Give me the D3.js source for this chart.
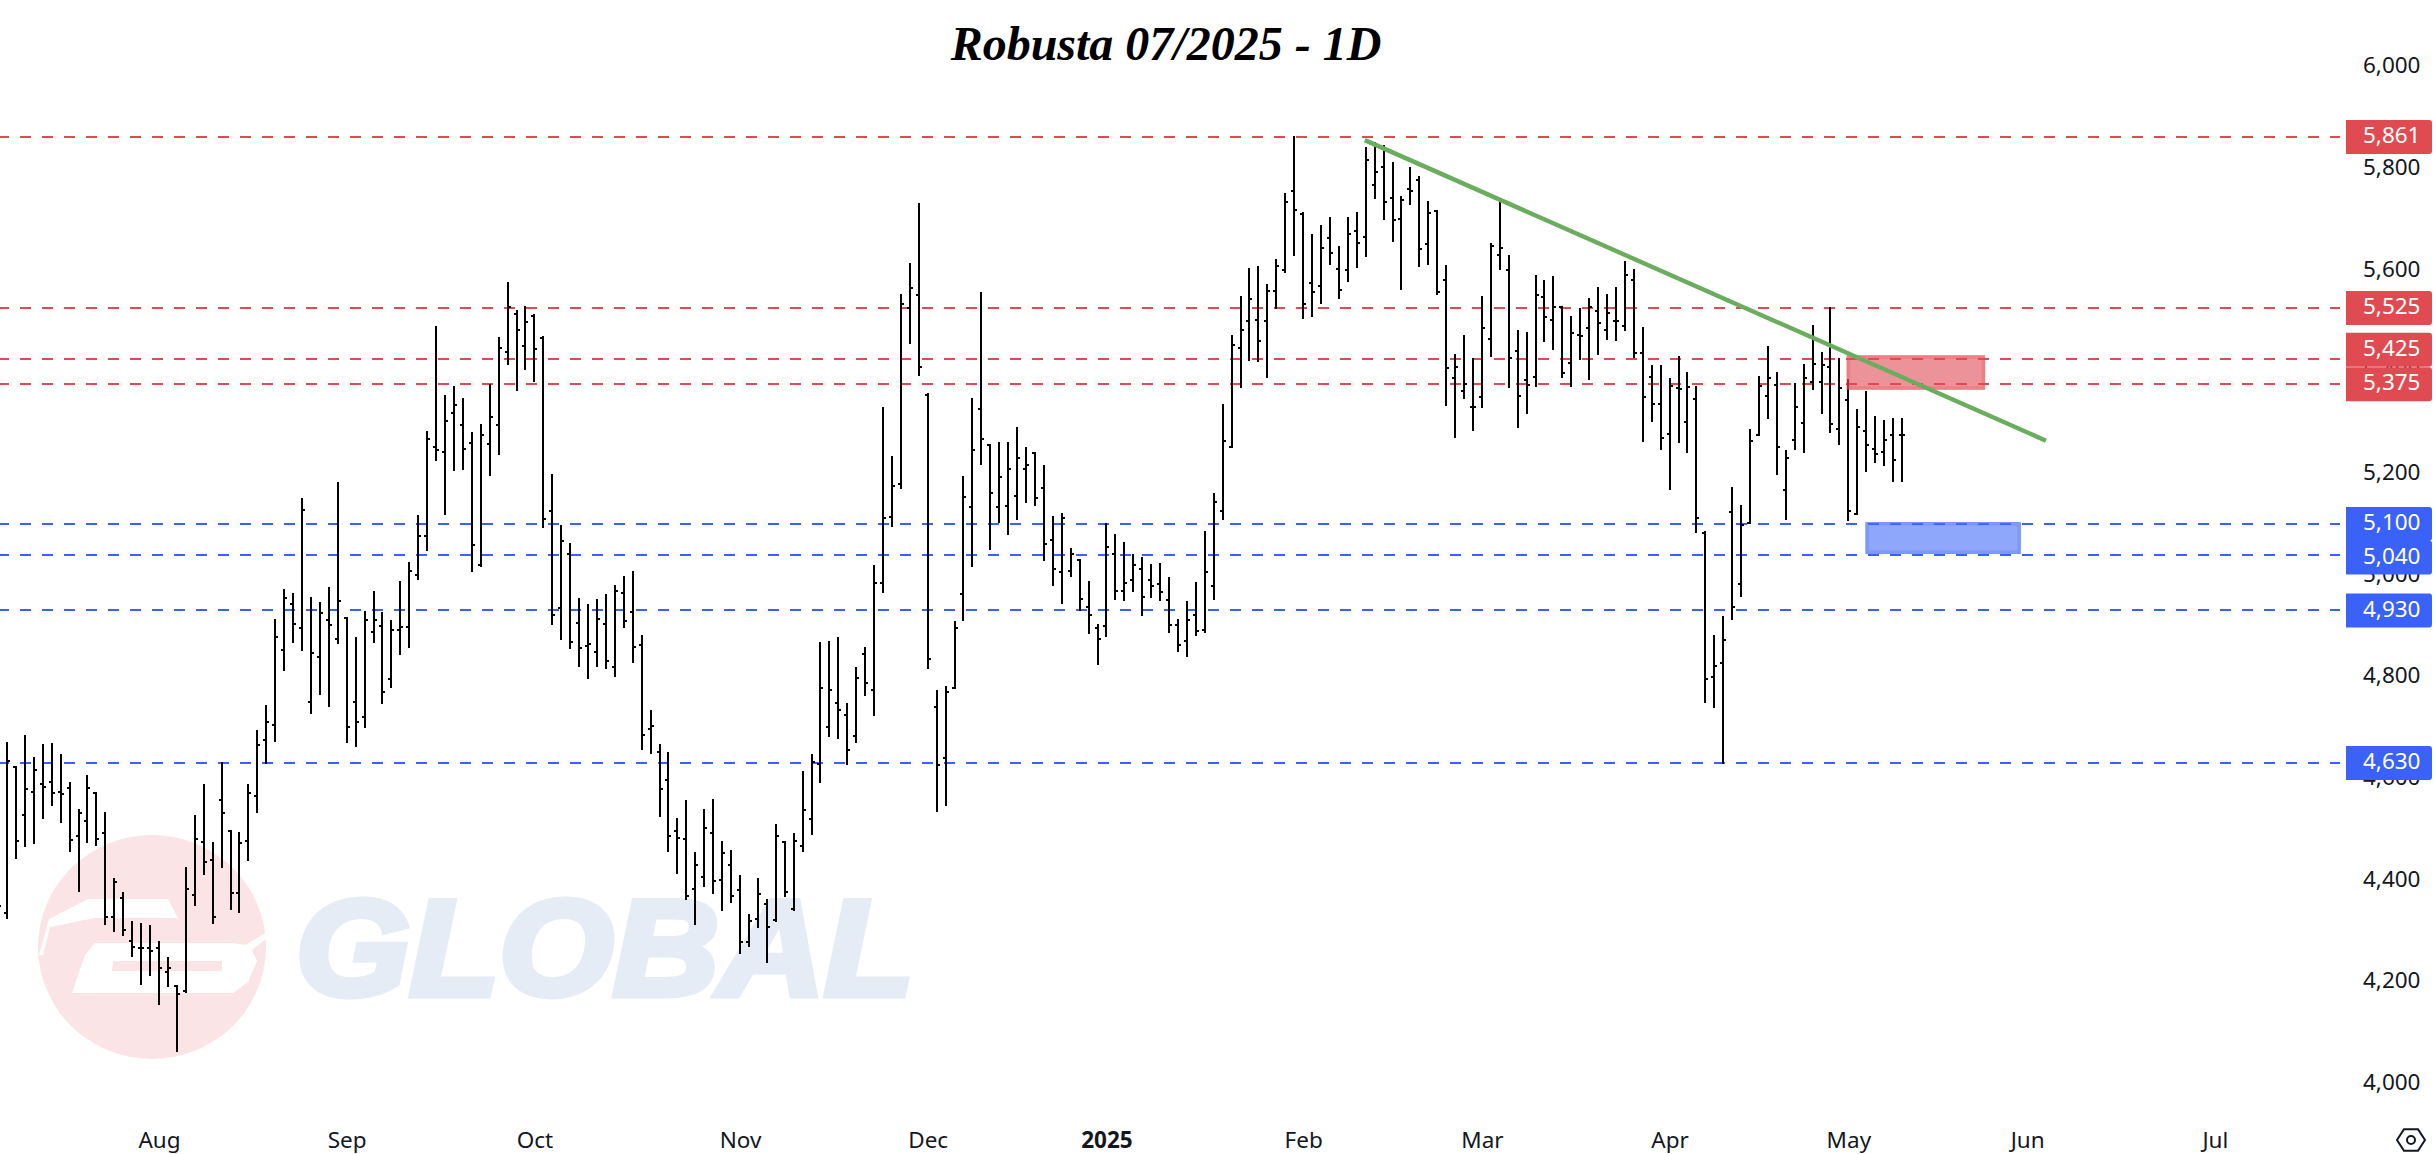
<!DOCTYPE html>
<html><head><meta charset="utf-8">
<style>html,body{margin:0;padding:0;background:#fff;overflow:hidden}svg{display:block}
.ax text{font-family:"Noto Sans",sans-serif;font-size:22.5px;fill:#131722}</style>
<script src="https://cdn.jsdelivr.net/npm/d3@7"></script></head><body>
<svg id="c" width="2436" height="1154"></svg>
<script>
const titleText = "Robusta 07/2025 - 1D";
const watermarkText = "GLOBAL";
const opens = [4400,
4335,4623,4528,4573,4589,4592,4573,4581,4487,4516,
4572,4493,4327,4364,4280,4267,4267,4266,4219,4192,
4181,4371,4475,4440,4558,4497,4375,4476,4565,4676,
4705,4852,4943,4896,4750,4839,4912,4873,4916,4751,
4720,4888,4900,4796,4892,4898,5000,5076,5252,5242,
5319,5295,5260,5019,5257,5295,5438,5513,5450,5510,
5466,5125,4935,5041,4906,4860,4849,4903,4819,4965,
4927,4862,4697,4652,4597,4497,4481,4383,4406,4492,
4400,4429,4380,4279,4323,4353,4321,4475,4343,4466,
4520,4629,4701,4748,4725,4684,4844,4773,4984,5114,
5179,5525,5550,5354,4740,4640,4778,4962,5134,5327,
5255,5134,5136,5156,5208,5240,5171,5069,5006,5008,
5030,4936,4896,4900,5041,4969,4990,5011,4990,4982,
4951,4902,4870,4921,4891,4978,5126,5252,5446,5499,
5502,5499,5559,5600,5755,5710,5574,5568,5662,5601,
5600,5676,5664,5766,5802,5741,5700,5759,5777,5650,
5715,5580,5388,5361,5331,5350,5464,5629,5600,5441,
5384,5389,5547,5502,5527,5417,5471,5486,5518,5481,
5499,5490,5580,5437,5389,5336,5278,5368,5301,5346,
5083,4799,4827,5124,4982,5103,5275,5352,5374,5167,
5266,5299,5379,5380,5409,5286,5344,5120,5283,5248,
5241,5275,5275];
const highs = [4500,
4670,4623,4683,4640,4665,4667,4646,4591,4538,4604,
4572,4531,4401,4374,4318,4313,4309,4279,4247,4192,
4424,4526,4587,4472,4630,4497,4493,4587,4693,4742,
4911,4971,4962,5150,4954,4944,4974,5180,4916,4875,
4928,4967,4926,4909,4987,5024,5115,5282,5487,5352,
5369,5345,5280,5294,5373,5465,5575,5518,5526,5512,
5467,5197,5096,5060,4953,4940,4950,4961,4979,4995,
5005,4879,4733,4666,4649,4519,4555,4454,4537,4558,
4475,4458,4407,4332,4401,4360,4508,4475,4491,4613,
4646,4866,4868,4876,4747,4816,4857,5018,5328,5231,
5551,5612,5730,5355,4772,4780,4908,5193,5345,5555,
5256,5260,5260,5288,5250,5240,5215,5113,5119,5051,
5030,4986,4902,5101,5078,5062,5040,5034,5019,5021,
4993,4912,4946,4984,5084,5160,5335,5469,5546,5601,
5605,5571,5620,5750,5861,5712,5668,5687,5701,5644,
5701,5711,5839,5850,5843,5811,5744,5801,5782,5733,
5715,5608,5433,5469,5425,5547,5650,5735,5628,5479,
5475,5587,5577,5585,5527,5508,5522,5543,5565,5551,
5565,5616,5600,5485,5410,5410,5386,5428,5398,5369,
5085,4879,4918,5170,5135,5284,5390,5449,5398,5243,
5375,5412,5489,5436,5524,5425,5383,5324,5359,5311,
5302,5306,5306];
const lows = [4320,
4325,4443,4466,4472,4521,4548,4514,4457,4378,4475,
4469,4314,4300,4292,4250,4196,4213,4157,4192,4064,
4180,4351,4412,4316,4426,4343,4337,4440,4534,4630,
4674,4813,4868,4853,4729,4766,4743,4867,4672,4663,
4700,4869,4749,4779,4845,4859,4991,5048,5225,5120,
5207,5209,5007,5017,5196,5237,5415,5364,5405,5382,
5095,4904,4874,4857,4820,4798,4820,4816,4802,4898,
4828,4657,4649,4525,4458,4413,4363,4313,4389,4375,
4341,4357,4257,4271,4308,4239,4319,4368,4341,4457,
4491,4592,4683,4680,4629,4672,4763,4724,4967,5097,
5170,5456,5394,4817,4535,4548,4777,4912,5018,5219,
5051,5105,5081,5110,5143,5138,5030,4980,4944,4998,
4930,4886,4825,4879,4952,4951,4969,4922,4956,4950,
4888,4851,4841,4881,4888,4953,5109,5252,5370,5423,
5421,5390,5525,5595,5630,5506,5510,5534,5612,5545,
5577,5606,5628,5742,5699,5657,5563,5730,5608,5612,
5553,5335,5272,5348,5284,5331,5431,5602,5370,5290,
5319,5372,5459,5445,5390,5372,5424,5386,5435,5463,
5461,5481,5429,5264,5302,5248,5169,5262,5242,5085,
4751,4741,4630,4914,4959,5102,5275,5309,5199,5109,
5248,5242,5366,5319,5282,5258,5107,5120,5205,5223,
5216,5185,5185];
const closes = [4349,
4634,4476,4578,4617,4583,4571,4570,4479,4531,4581,
4481,4327,4396,4302,4268,4267,4260,4226,4227,4176,
4383,4481,4436,4327,4532,4375,4473,4571,4666,4710,
4878,4955,4903,5128,4846,4925,4901,4948,4701,4711,
4912,4912,4770,4892,4898,5008,5076,5268,5246,5303,
5334,5247,5059,5275,5311,5447,5527,5482,5498,5444,
5110,4921,5067,4868,4857,4864,4914,4830,4969,4910,
4858,4686,4703,4578,4487,4483,4369,4430,4502,4399,
4454,4368,4279,4319,4372,4307,4487,4376,4477,4538,
4632,4777,4774,4734,4655,4797,4787,4984,5111,5175,
5533,5564,5409,4835,4626,4770,4896,5153,5246,5268,
5162,5193,5208,5230,5216,5151,5060,5011,5112,5041,
4952,4921,4874,5055,4969,4984,5019,4956,4978,4967,
4902,4862,4911,4889,5006,5143,5263,5452,5481,5542,
5460,5559,5607,5733,5718,5533,5557,5643,5633,5561,
5670,5653,5816,5792,5733,5698,5737,5755,5641,5712,
5557,5407,5409,5376,5331,5486,5646,5643,5427,5352,
5374,5551,5507,5527,5397,5475,5469,5527,5496,5515,
5500,5590,5436,5350,5336,5270,5372,5366,5370,5112,
4795,4821,4872,4937,5099,5263,5372,5388,5252,5230,
5330,5388,5415,5413,5297,5368,5126,5291,5256,5238,
5265,5226,5275];

const priceTicks = [6000,5800,5600,5400,5200,5000,4800,4600,4400,4200,4000];
const monthLabels = ["Aug","Sep","Oct","Nov","Dec","2025","Feb","Mar","Apr","May","Jun","Jul"];
const monthBars = [18,39,60,83,104,124,146,166,187,207,227,248];
const redLevels = [5861,5525,5425,5375];
const blueLevels = [5100,5040,4930,4630];
const trendBars = [152.9,229.1];
const trendPrices = [5855,5264];
const redZoneBars = [206.8,222.3];
const redZonePrices = [5432,5364];
const blueZoneBars = [208.9,226.3];
const blueZonePrices = [5104,5041];
const RED="#E04B51", BLUE="#3A62F8";

const x = d3.scaleLinear().domain([0,213]).range([-1.9,1902]);
const y = d3.scaleLinear().domain([4000,6000]).range([1083.4,66.4]);
const svg = d3.select("#c");
svg.append("rect").attr("width",2436).attr("height",1154).attr("fill","#fff");

// watermark
const wm = svg.append("g");
wm.append("ellipse").attr("cx",152).attr("cy",947).attr("rx",114).attr("ry",112).attr("fill","#FBE4E5");
const wp = (pts,c)=>wm.append("path").attr("fill",c).attr("d",d3.line()(pts)+"Z");
wp([[39,955],[49,919],[88,899],[168,899],[178,918],[95,918],[50,927],[43,955]],"#fff");
wp([[72,993],[85,955],[95,943],[233,943],[245,945],[267,932],[267,938],[252,950],[257,961],[248,982],[233,993]],"#fff");
wp([[113,961],[222,961],[222,971],[112,971]],"#FBE4E5");
wm.append("text").text(watermarkText).attr("x",296).attr("y",995)
  .attr("font-family","Liberation Sans").attr("font-weight",700).attr("font-style","italic")
  .attr("font-size",136).attr("textLength",618).attr("lengthAdjust","spacingAndGlyphs")
  .attr("fill","#E5ECF5").attr("stroke","#E5ECF5").attr("stroke-width",7);

// levels
const lvl = svg.append("g").attr("shape-rendering","crispEdges");
[[redLevels,RED],[blueLevels,BLUE]].forEach(([a,c])=>{
  lvl.selectAll(null).data(a).join("line")
    .attr("x1",-2).attr("x2",2340).attr("y1",d=>Math.round(y(d))).attr("y2",d=>Math.round(y(d)))
    .attr("stroke",c).attr("stroke-width",2).attr("stroke-dasharray","11 11");
});

// bars
const bars = svg.append("g").attr("stroke","#000").attr("stroke-width",2).attr("shape-rendering","crispEdges");
const bx = i=>Math.round(x(i));
highs.forEach((h,i)=>{
  bars.append("line").attr("x1",bx(i)).attr("x2",bx(i)).attr("y1",y(h)-1).attr("y2",y(lows[i])+1);
  bars.append("line").attr("x1",bx(i)-3).attr("x2",bx(i)).attr("y1",y(opens[i])).attr("y2",y(opens[i]));
  bars.append("line").attr("x1",bx(i)).attr("x2",bx(i)+3).attr("y1",y(closes[i])).attr("y2",y(closes[i]));
});

// zones
function zone(xs,ps,c){
  const x0=x(xs[0]),x1=x(xs[1]),y0=y(ps[0]),y1=y(ps[1]);
  svg.append("rect").attr("x",x0).attr("y",y0).attr("width",x1-x0).attr("height",y1-y0).attr("fill",c).attr("fill-opacity",.6);
  svg.append("rect").attr("x",x0+1.75).attr("y",y0+1.75).attr("width",x1-x0-3.5).attr("height",y1-y0-3.5)
    .attr("fill","none").attr("stroke",c).attr("stroke-opacity",.25).attr("stroke-width",3.5);
}
zone(redZoneBars,redZonePrices,"#E04B55");
zone(blueZoneBars,blueZonePrices,"#446CF7");

// trend
svg.append("line").attr("x1",x(trendBars[0])).attr("x2",x(trendBars[1])).attr("y1",y(trendPrices[0])).attr("y2",y(trendPrices[1]))
  .attr("stroke","#6AAD5F").attr("stroke-width",4.4);

// axes
const ay = d3.axisRight(y).tickValues(priceTicks).tickFormat(d3.format(",")).tickSize(0).tickPadding(0);
const gy = svg.append("g").attr("class","ax").attr("transform","translate(2420.5,-1.2)").call(ay);
gy.select(".domain").remove();
gy.selectAll("text").attr("text-anchor","end").attr("dy","0.33em");
const ax = d3.axisBottom(x).tickValues(monthBars).tickFormat((d,i)=>monthLabels[i]).tickSize(0).tickPadding(0);
const gx = svg.append("g").attr("class","ax").attr("transform","translate(0,1141)").call(ax);
gx.select(".domain").remove();
gx.selectAll("text").attr("dy","0.33em").attr("font-weight",(d,i)=>monthLabels[i]==="2025"?700:400);
gx.selectAll("text").attr("y",0);

// price labels
const boxL=2346, boxR=2432, boxH=34;
const labelOffsets = new Map([[5425,-9],[5040,3]]);
[[redLevels,RED],[blueLevels,BLUE]].forEach(([a,c])=>{
  a.forEach(v=>{
    const cy = y(v)+(labelOffsets.get(v)||0);
    const t=cy-boxH/2,b=cy+boxH/2,r=3;
    svg.append("path").attr("fill",c)
      .attr("d",`M${boxL},${t}H${boxR-r}Q${boxR},${t} ${boxR},${t+r}V${b-r}Q${boxR},${b} ${boxR-r},${b}H${boxL}Z`);
    svg.append("text").text(d3.format(",")(v)).attr("x",2420.5).attr("y",cy-1.2).attr("dy","0.33em")
      .attr("text-anchor","end").attr("font-family","Noto Sans").attr("font-size",22.5).attr("fill","#fff");
  });
});

// title
svg.append("text").text(titleText).attr("x",1166).attr("y",59.5).attr("text-anchor","middle")
  .attr("font-family","Liberation Serif").attr("font-weight",700).attr("font-style","italic").attr("font-size",48).attr("fill","#000");

// settings icon
const hex = d3.range(6).map(k=>[2411+14*Math.cos(k*Math.PI/3),1140+12.5*Math.sin(k*Math.PI/3)]);
svg.append("path").attr("d",d3.line()(hex)+"Z").attr("fill","none").attr("stroke","#131722").attr("stroke-width",2);
svg.append("circle").attr("cx",2411).attr("cy",1140).attr("r",4).attr("fill","none").attr("stroke","#131722").attr("stroke-width",2);
</script></body></html>
